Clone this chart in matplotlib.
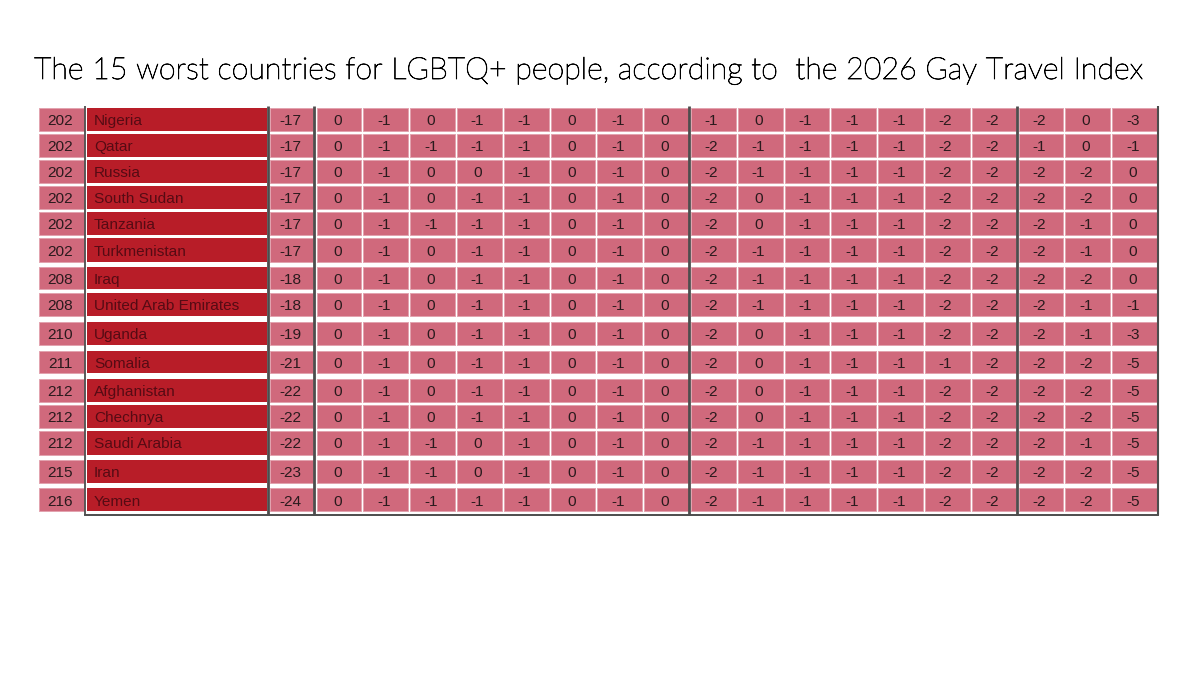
import matplotlib
matplotlib.use('Agg')
import matplotlib.pyplot as plt
import matplotlib.patheffects as pe
from matplotlib.patches import Rectangle

title = 'The 15 worst countries for LGBTQ+ people, according to  the 2026 Gay Travel Index'

ranks = [202, 202, 202, 202, 202, 202, 208, 208, 210, 211, 212, 212, 212, 215, 216]
countries = ['Nigeria', 'Qatar', 'Russia', 'South Sudan', 'Tanzania', 'Turkmenistan', 'Iraq',
             'United Arab Emirates', 'Uganda', 'Somalia', 'Afghanistan', 'Chechnya',
             'Saudi Arabia', 'Iran', 'Yemen']
totals = [-17, -17, -17, -17, -17, -17, -18, -18, -19, -21, -22, -22, -22, -23, -24]

scores = [
    [0, -1, 0, -1, -1, 0, -1, 0, -1, 0, -1, -1, -1, -2, -2, -2, 0, -3],
    [0, -1, -1, -1, -1, 0, -1, 0, -2, -1, -1, -1, -1, -2, -2, -1, 0, -1],
    [0, -1, 0, 0, -1, 0, -1, 0, -2, -1, -1, -1, -1, -2, -2, -2, -2, 0],
    [0, -1, 0, -1, -1, 0, -1, 0, -2, 0, -1, -1, -1, -2, -2, -2, -2, 0],
    [0, -1, -1, -1, -1, 0, -1, 0, -2, 0, -1, -1, -1, -2, -2, -2, -1, 0],
    [0, -1, 0, -1, -1, 0, -1, 0, -2, -1, -1, -1, -1, -2, -2, -2, -1, 0],
    [0, -1, 0, -1, -1, 0, -1, 0, -2, -1, -1, -1, -1, -2, -2, -2, -2, 0],
    [0, -1, 0, -1, -1, 0, -1, 0, -2, -1, -1, -1, -1, -2, -2, -2, -1, -1],
    [0, -1, 0, -1, -1, 0, -1, 0, -2, 0, -1, -1, -1, -2, -2, -2, -1, -3],
    [0, -1, 0, -1, -1, 0, -1, 0, -2, 0, -1, -1, -1, -1, -2, -2, -2, -5],
    [0, -1, 0, -1, -1, 0, -1, 0, -2, 0, -1, -1, -1, -2, -2, -2, -2, -5],
    [0, -1, 0, -1, -1, 0, -1, 0, -2, 0, -1, -1, -1, -2, -2, -2, -2, -5],
    [0, -1, -1, 0, -1, 0, -1, 0, -2, -1, -1, -1, -1, -2, -2, -2, -1, -5],
    [0, -1, -1, 0, -1, 0, -1, 0, -2, -1, -1, -1, -1, -2, -2, -2, -2, -5],
    [0, -1, -1, -1, -1, 0, -1, 0, -2, -1, -1, -1, -1, -2, -2, -2, -2, -5],
]

# table layout in pixels, the rows in the source image are not evenly spaced
row_top = [107.5, 133.5, 160, 186, 211.5, 237.5, 267, 292.5, 321.5, 350.5, 379, 405, 430.5, 459.5, 488]
row_bot = [130.5, 157, 182.5, 208.5, 234.5, 261.5, 288.5, 316, 345, 372.5, 401.5, 427.5, 454.5, 482.5, 511]
col_start = 315.5
col_step = 46.8

PINK = '#d0697c'
RED = '#b81d28'
EDGE = '#e2a3af'
LINE = '#4d4d4d'
TEXT = '#2a1a1d'
NAME = '#560b14'
FONT = 'Liberation Sans'


def label(x, y, s, ha, color):
    ax.text(x, y, s, ha=ha, va='baseline', fontsize=11.1, family=FONT, color=color, zorder=3)


def cell(x0, x1, y0, y1, color):
    ax.add_patch(Rectangle((x0, y0), x1 - x0, y1 - y0, facecolor=color, edgecolor=EDGE, lw=0.7, zorder=1))


fig = plt.figure(figsize=(12, 6.75), dpi=100, facecolor='white')
ax = fig.add_axes([0, 0, 1, 1])
ax.set_xlim(0, 1200)
ax.set_ylim(675, 0)
ax.axis('off')

for i in range(len(ranks)):
    y0, y1 = row_top[i], row_bot[i]
    base = (y0 + y1) / 2 + 6

    cell(39, 84, y0, y1, PINK)
    label(60.5, base, str(ranks[i]), 'center', TEXT)

    ax.add_patch(Rectangle((87, y0), 180, y1 - y0, facecolor=RED, edgecolor='none', zorder=1))
    label(94, base, countries[i], 'left', NAME)

    cell(270, 313, y0, y1, PINK)
    label(290.5, base, str(totals[i]), 'center', TEXT)

    for j, v in enumerate(scores[i]):
        x0 = col_start + j * col_step
        cell(x0 + 1, x0 + col_step - 1, y0, y1, PINK)
        label(x0 + col_step / 2 - 1.7, base, str(v), 'center', TEXT)

# heavier vertical rules between the column groups
for x, lw in [(85, 1.3), (267.5, 2), (314, 2), (689, 2), (1017, 2), (1157.5, 1.5)]:
    ax.plot([x, x], [105.5, 515], color=LINE, lw=lw, solid_capstyle='butt', zorder=2)
ax.plot([85, 1158], [515, 515], color=LINE, lw=1.4, zorder=2)

# only the thin cut of Lato gets picked for weight light, a hairline stroke brings it up to the source weight
ax.text(34, 79, title, ha='left', va='baseline', fontsize=21.9, family='Lato', weight='light', color='black',
        path_effects=[pe.withStroke(linewidth=0.55, foreground='black')])

fig.savefig('out.png', dpi=100)
